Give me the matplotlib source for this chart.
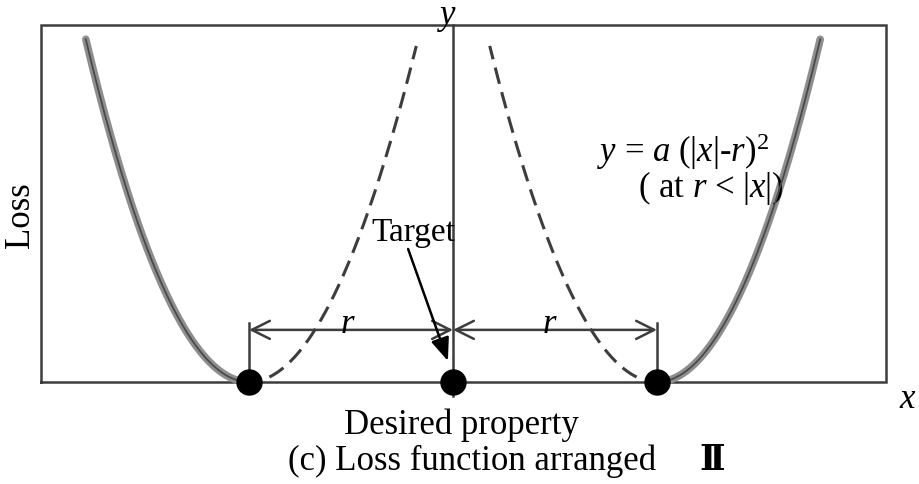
import matplotlib
matplotlib.use('Agg')
import matplotlib.pyplot as plt
import numpy as np

plt.rcParams['font.family'] = ['Liberation Serif', 'DejaVu Serif']
plt.rcParams['mathtext.fontset'] = 'custom'
plt.rcParams['mathtext.rm'] = 'Liberation Serif'
plt.rcParams['mathtext.it'] = 'Liberation Serif:italic'

# loss y = a(|x|-r)^2 outside the band, dashed mirror inside
r = 1.0
a = 1.5
a_in = 1.4
x_out = 1.8      # how far the solid branches run
x_in = 0.18      # where the dashed branches stop near the axis
gap = 0.1        # dashed branches start a bit off the dots
points_x = [-r, 0.0, r]
points_y = [0.0, 0.0, 0.0]

edge = '#3d3d3d'
fs = 25

fig = plt.figure(figsize=(9.19, 4.85), dpi=100)
ax = fig.add_axes([0, 0, 1, 1])
ax.set_xlim(-2.2206, 2.2843)
ax.set_ylim(-0.2857, 1.0728)
ax.axis('off')

# frame: left, top, right, bottom
ax.plot([-2.02, -2.02, 2.1225, 2.1225, -2.02], [0, 1.0, 1.0, 0, 0],
        color=edge, lw=1.8, solid_joinstyle='miter')
# y axis
ax.plot([0, 0], [-0.04, 1.0], color=edge, lw=1.8)

# solid branches
for s in (-1, 1):
    xs = s * np.linspace(r, x_out, 200)
    ys = a * (np.abs(xs) - r) ** 2
    ax.plot(xs, ys, color='#8e8e8e', lw=5.5, solid_capstyle='round', zorder=3)
    ax.plot(xs, ys, color='#4a4a4a', lw=1.3, zorder=4)

# dashed branches
for s in (-1, 1):
    xs = s * np.linspace(r - gap, x_in, 200)
    ys = a_in * (r - np.abs(xs)) ** 2
    ax.plot(xs, ys, color=edge, lw=2.2, dashes=(5.5, 2.8), zorder=3)

# dots
ax.plot(points_x, points_y, 'o', color='black', ms=18, zorder=6)

# r dimension arrows
y_dim = 0.146
for xl in (-r, r):
    ax.plot([xl, xl], [0, 0.165], color=edge, lw=1.8)
    ax.annotate('', xy=(0, y_dim), xytext=(xl, y_dim),
                arrowprops=dict(arrowstyle='<->,head_length=0.5,head_width=0.25',
                                color=edge, lw=1.8, mutation_scale=26,
                                shrinkA=0, shrinkB=0))
ax.text(-0.515, 0.14, '$r$', fontsize=fs, ha='center', va='baseline')
ax.text(0.475, 0.14, '$r$', fontsize=fs, ha='center', va='baseline')

# target pointer
ax.text(-0.196, 0.42, 'Target', fontsize=24, ha='center', va='center')
ax.annotate('', xy=(-0.025, 0.059), xytext=(-0.22, 0.3725),
            arrowprops=dict(arrowstyle='-|>,head_length=0.7,head_width=0.28',
                            color='black', lw=1.8, mutation_scale=20,
                            shrinkA=0, shrinkB=0))

# formula
ax.text(0.706, 0.647, '$y$ = $a$ (|$x$|-$r$)$^2$', fontsize=fs, ha='left', va='center')
ax.text(0.907, 0.546, '( at $r$ < |$x$|)', fontsize=fs, ha='left', va='center')

# axis names
ax.text(-0.03, 1.025, '$y$', fontsize=fs, ha='center', va='center')
ax.text(2.23, -0.045, '$x$', fontsize=fs, ha='center', va='center')
ax.text(-2.118, 0.47, 'Loss', fontsize=fs, ha='center', va='center', rotation=90)
ax.text(0.04, -0.118, 'Desired property', fontsize=fs, ha='center', va='center')
ax.text(-0.809, -0.218, '(c) Loss function arranged', fontsize=fs, ha='left', va='center')
ax.text(1.27, -0.215, 'Ⅱ', fontsize=fs, ha='center', va='center',
        family=['DejaVu Serif', 'Noto Sans CJK SC'], fontweight='bold')

fig.savefig('out.png', dpi=100)
